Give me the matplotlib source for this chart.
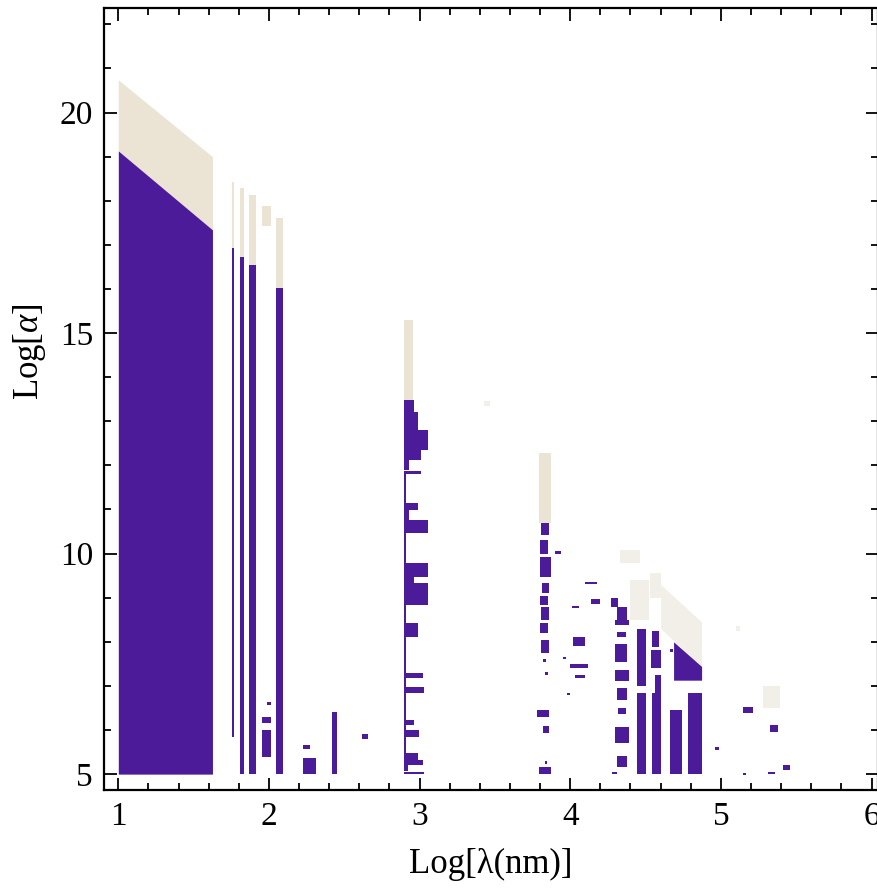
import matplotlib
matplotlib.use('Agg')
import matplotlib.pyplot as plt
from matplotlib.ticker import MultipleLocator

plt.rcParams['font.family'] = ['Liberation Serif', 'DejaVu Serif']
plt.rcParams['mathtext.fontset'] = 'custom'
plt.rcParams['mathtext.rm'] = 'Liberation Serif'
plt.rcParams['mathtext.it'] = 'Liberation Serif:italic'

PURPLE = '#4b1b9a'
BEIGE = '#ebe3d3'
BEIGE_FAINT = '#f2efe8'

# ---- data (Log lambda, Log alpha) ----
# main sloped band: x, top of purple, top of beige (bottom at 5)
band_x = [1.0, 1.625]
band_purple_top = [19.13, 17.34]
band_beige_top = [20.74, 19.0]
band_bottom = 5.0

# slanted piece near Log lambda ~ 4.8
slant_x = [4.686, 4.872]
slant_purple_top = [8.0, 7.44]
slant_purple_bottom = [7.13, 7.13]
slant_beige_x = [4.60, 4.872]
slant_beige_top = [9.3, 8.45]
slant_beige_bottom = [8.3, 7.44]

# purple rectangles: (x0, x1, y0, y1)
purple_left_group = [
    (1.753, 1.771, 5.85, 16.93),
    (1.809, 1.837, 5.0, 16.73),
    (1.870, 1.915, 5.0, 16.55),
    (1.952, 2.015, 5.38, 6.01),
    (1.952, 2.015, 6.15, 6.30),
    (1.985, 2.015, 6.56, 6.64),
    (2.048, 2.092, 5.0, 16.02),
    (2.229, 2.309, 5.0, 5.36),
    (2.225, 2.27, 5.58, 5.65),
    (2.420, 2.450, 5.0, 6.41),
    (2.620, 2.660, 5.80, 5.90),
]

# column at Log lambda ~ 2.9: (y0, y1, right edge), left edge fixed
col3_left = 2.895
col3_steps = [
    (13.20, 13.49, 2.96), (12.80, 13.20, 2.99), (12.36, 12.80, 3.055),
    (12.12, 12.36, 3.01), (11.90, 12.12, 2.93), (11.80, 11.88, 3.01),
    (11.14, 11.80, 2.91), (10.99, 11.14, 2.99), (10.76, 10.99, 2.93),
    (10.46, 10.76, 3.055), (9.78, 10.46, 2.91), (9.48, 9.78, 3.055),
    (9.33, 9.48, 2.96), (8.84, 9.33, 3.055), (8.42, 8.84, 2.91),
    (8.12, 8.42, 2.99), (7.29, 8.12, 2.91), (7.17, 7.29, 3.02),
    (6.98, 7.17, 2.91), (6.83, 6.98, 3.03), (6.23, 6.83, 2.91),
    (6.12, 6.23, 2.96), (6.00, 6.12, 2.91), (5.84, 6.00, 2.995),
    (5.47, 5.84, 2.91), (5.32, 5.47, 2.99), (5.20, 5.32, 3.02),
    (5.08, 5.20, 2.92), (5.00, 5.04, 3.03),
]

purple_col38 = [
    (3.805, 3.86, 10.42, 10.70), (3.80, 3.85, 10.0, 10.3),
    (3.80, 3.87, 9.48, 9.93), (3.81, 3.86, 9.10, 9.33),
    (3.80, 3.855, 8.83, 9.03), (3.805, 3.86, 8.49, 8.79),
    (3.80, 3.85, 8.19, 8.42), (3.805, 3.86, 7.74, 8.04),
    (3.82, 3.84, 7.55, 7.62), (3.83, 3.85, 7.25, 7.32),
    (3.78, 3.86, 6.30, 6.45), (3.82, 3.86, 5.93, 6.08),
    (3.83, 3.845, 5.22, 5.30), (3.79, 3.87, 5.0, 5.17),
    (3.90, 3.94, 9.98, 10.05),
]

purple_scatter_41 = [
    (4.10, 4.18, 9.30, 9.36), (4.14, 4.20, 8.85, 8.96),
    (4.01, 4.06, 8.76, 8.82), (4.02, 4.10, 7.90, 8.10),
    (4.00, 4.12, 7.40, 7.50), (4.03, 4.10, 7.18, 7.24),
    (3.95, 3.97, 7.60, 7.65), (3.98, 4.00, 6.80, 6.85),
]

purple_col43 = [
    (4.27, 4.32, 8.80, 9.00), (4.31, 4.38, 8.50, 8.80),
    (4.30, 4.39, 8.38, 8.50), (4.31, 4.37, 8.12, 8.23),
    (4.30, 4.38, 7.55, 7.96), (4.30, 4.39, 7.10, 7.36),
    (4.31, 4.38, 6.68, 6.96), (4.32, 4.37, 6.37, 6.49),
    (4.30, 4.39, 5.70, 6.07), (4.31, 4.38, 5.17, 5.40),
    (4.28, 4.31, 5.00, 5.05),
]

purple_right_cols = [
    (4.44, 4.50, 7.0, 8.30), (4.44, 4.50, 5.0, 6.85),
    (4.545, 4.59, 7.89, 8.25), (4.535, 4.60, 7.40, 7.81),
    (4.56, 4.60, 6.85, 7.25), (4.54, 4.60, 5.0, 6.83),
    (4.66, 4.68, 7.78, 7.83),
    (4.66, 4.74, 5.0, 6.45),
    (4.785, 4.872, 5.0, 6.83),
]

purple_far_right = [
    (5.148, 5.215, 6.38, 6.53), (5.325, 5.38, 5.96, 6.12),
    (4.96, 4.99, 5.55, 5.62), (5.15, 5.17, 4.99, 5.03),
    (5.31, 5.36, 5.0, 5.05), (5.41, 5.46, 5.10, 5.20),
]

beige_rects = [
    (1.753, 1.771, 16.93, 18.43), (1.809, 1.837, 16.73, 18.30),
    (1.870, 1.915, 16.55, 18.13), (1.952, 2.015, 17.42, 17.87),
    (2.048, 2.092, 16.02, 17.60), (2.895, 2.955, 13.49, 15.30),
    (3.79, 3.87, 10.70, 12.27),
]

beige_faint_rects = [
    (4.33, 4.46, 9.78, 10.08), (4.53, 4.60, 9.0, 9.55),
    (4.40, 4.52, 8.5, 9.4), (5.28, 5.39, 6.5, 7.0),
    (5.10, 5.13, 8.25, 8.35), (3.43, 3.47, 13.35, 13.45),
]


def draw_rects(ax, rects, color):
    for x0, x1, y0, y1 in rects:
        ax.bar(x0, y1 - y0, width=x1 - x0, bottom=y0, align='edge',
               color=color, linewidth=0)


fig = plt.figure(figsize=(8.78, 8.92), dpi=100)
ax = fig.add_axes([104 / 878, 102 / 892, 774 / 878, 782 / 892])

# beige first, purple on top
ax.fill_between(band_x, band_purple_top, band_beige_top, color=BEIGE, linewidth=0)
ax.fill_between(slant_beige_x, slant_beige_bottom, slant_beige_top, color=BEIGE_FAINT, linewidth=0)
draw_rects(ax, beige_faint_rects, BEIGE_FAINT)
draw_rects(ax, beige_rects, BEIGE)

ax.fill_between(band_x, band_bottom, band_purple_top, color=PURPLE, linewidth=0)
ax.fill_between(slant_x, slant_purple_bottom, slant_purple_top, color=PURPLE, linewidth=0)
for grp in (purple_left_group, purple_col38, purple_scatter_41,
            purple_col43, purple_right_cols, purple_far_right):
    draw_rects(ax, grp, PURPLE)
draw_rects(ax, [(col3_left, r, y0, y1) for y0, y1, r in col3_steps], PURPLE)

ax.set_xlim(0.905, 6.043)
ax.set_ylim(4.64, 22.37)

ax.xaxis.set_major_locator(MultipleLocator(1))
ax.xaxis.set_minor_locator(MultipleLocator(0.2))
ax.yaxis.set_major_locator(MultipleLocator(5))
ax.yaxis.set_minor_locator(MultipleLocator(1))
ax.tick_params(which='both', direction='in', top=True, right=True,
               labelsize=24, width=1.3, colors='black')
ax.tick_params(which='major', length=9, pad=8)
ax.tick_params(which='minor', length=5)
for s in ax.spines.values():
    s.set_linewidth(1.6)

ax.set_xlabel('Log[λ(nm)]', fontsize=25, labelpad=12)
ax.set_ylabel('Log[$\\alpha$]', fontsize=25)
ax.yaxis.set_label_coords(-0.072, 0.56)

fig.savefig('out.png', dpi=100)
